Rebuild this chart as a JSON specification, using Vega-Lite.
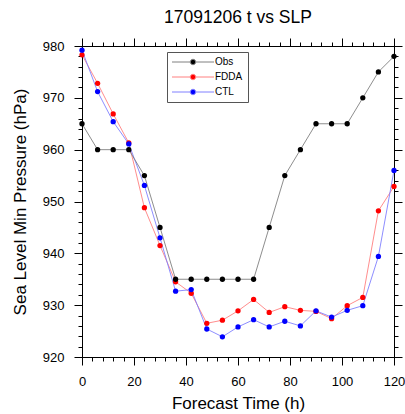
{
  "$schema": "https://vega.github.io/schema/vega-lite/v6.json",
  "width": 312,
  "height": 311,
  "autosize": "none",
  "padding": {"left": 82, "top": 46, "right": 11, "bottom": 57},
  "background": "white",
  "title": {"text": "17091206 t vs SLP", "fontSize": 17.5, "fontWeight": "normal", "font": "Liberation Sans", "color": "black", "anchor": "middle", "frame": "group", "offset": 11},
  "config": {
    "view": {"stroke": null},
    "axis": {"domainColor": "black", "tickColor": "black", "labelColor": "black", "titleColor": "black", "labelFont": "Liberation Sans", "titleFont": "Liberation Sans", "grid": false, "domainWidth": 1, "tickWidth": 1, "titleFontWeight": "normal", "labelFlush": false, "labelOverlap": false},
    "legend": {"labelFont": "Liberation Sans"}
  },
  "data": {"values": [
    {"t": 0, "series": "FDDA", "p": 978.3}, {"t": 6, "series": "FDDA", "p": 972.8}, {"t": 12, "series": "FDDA", "p": 966.9}, {"t": 18, "series": "FDDA", "p": 961.3}, {"t": 24, "series": "FDDA", "p": 948.8}, {"t": 30, "series": "FDDA", "p": 941.5}, {"t": 36, "series": "FDDA", "p": 934.5}, {"t": 42, "series": "FDDA", "p": 932.3}, {"t": 48, "series": "FDDA", "p": 926.5}, {"t": 54, "series": "FDDA", "p": 927.1}, {"t": 60, "series": "FDDA", "p": 928.9}, {"t": 66, "series": "FDDA", "p": 931.1}, {"t": 72, "series": "FDDA", "p": 928.6}, {"t": 78, "series": "FDDA", "p": 929.7}, {"t": 84, "series": "FDDA", "p": 929.0}, {"t": 90, "series": "FDDA", "p": 928.8}, {"t": 96, "series": "FDDA", "p": 927.4}, {"t": 102, "series": "FDDA", "p": 929.9}, {"t": 108, "series": "FDDA", "p": 931.5}, {"t": 114, "series": "FDDA", "p": 948.2}, {"t": 120, "series": "FDDA", "p": 952.9},
    {"t": 0, "series": "CTL", "p": 979.2}, {"t": 6, "series": "CTL", "p": 971.2}, {"t": 12, "series": "CTL", "p": 965.4}, {"t": 18, "series": "CTL", "p": 961.1}, {"t": 24, "series": "CTL", "p": 953.1}, {"t": 30, "series": "CTL", "p": 943.0}, {"t": 36, "series": "CTL", "p": 932.7}, {"t": 42, "series": "CTL", "p": 933.0}, {"t": 48, "series": "CTL", "p": 925.4}, {"t": 54, "series": "CTL", "p": 923.9}, {"t": 60, "series": "CTL", "p": 925.8}, {"t": 66, "series": "CTL", "p": 927.2}, {"t": 72, "series": "CTL", "p": 925.8}, {"t": 78, "series": "CTL", "p": 926.9}, {"t": 84, "series": "CTL", "p": 926.0}, {"t": 90, "series": "CTL", "p": 928.9}, {"t": 96, "series": "CTL", "p": 927.7}, {"t": 102, "series": "CTL", "p": 929.0}, {"t": 108, "series": "CTL", "p": 929.9}, {"t": 114, "series": "CTL", "p": 939.4}, {"t": 120, "series": "CTL", "p": 956.0},
    {"t": 0, "series": "Obs", "p": 965}, {"t": 6, "series": "Obs", "p": 960}, {"t": 12, "series": "Obs", "p": 960}, {"t": 18, "series": "Obs", "p": 960}, {"t": 24, "series": "Obs", "p": 955}, {"t": 30, "series": "Obs", "p": 945}, {"t": 36, "series": "Obs", "p": 935}, {"t": 42, "series": "Obs", "p": 935}, {"t": 48, "series": "Obs", "p": 935}, {"t": 54, "series": "Obs", "p": 935}, {"t": 60, "series": "Obs", "p": 935}, {"t": 66, "series": "Obs", "p": 935}, {"t": 72, "series": "Obs", "p": 945}, {"t": 78, "series": "Obs", "p": 955}, {"t": 84, "series": "Obs", "p": 960}, {"t": 90, "series": "Obs", "p": 965}, {"t": 96, "series": "Obs", "p": 965}, {"t": 102, "series": "Obs", "p": 965}, {"t": 108, "series": "Obs", "p": 970}, {"t": 114, "series": "Obs", "p": 975}, {"t": 120, "series": "Obs", "p": 978}
  ]},
  "layer": [
    {
      "mark": {"type": "line", "strokeWidth": 0.9},
      "encoding": {
        "x": {"field": "t", "type": "quantitative", "scale": {"domain": [0, 120], "nice": false, "zero": false},
          "axis": {"orient": "bottom", "values": [0, 20, 40, 60, 80, 100, 120], "tickSize": 8, "labelPadding": 10, "labelFontSize": 13, "title": "Forecast Time (h)", "titleFontSize": 17, "titlePadding": 7}},
        "y": {"field": "p", "type": "quantitative", "scale": {"domain": [920, 980], "nice": false, "zero": false},
          "axis": {"orient": "left", "values": [920, 930, 940, 950, 960, 970, 980], "tickSize": 8, "labelPadding": 10, "labelFontSize": 13, "title": "Sea Level Min Pressure (hPa)", "titleFontSize": 17, "titlePadding": 13}},
        "stroke": {"field": "series", "type": "nominal", "scale": {"domain": ["Obs", "FDDA", "CTL"], "range": ["#808080", "#ff8080", "#8080ff"]},
          "legend": {"orient": "none", "legendX": 85, "legendY": 6, "title": null, "padding": 5, "strokeColor": "#555555", "symbolType": "M-7,0L-0.9,0M0.9,0L7,0M-0.9,0A0.9,0.9,0,1,0,0.9,0A0.9,0.9,0,1,0,-0.9,0", "symbolSize": 36, "symbolStrokeWidth": 1, "symbolOffset": 16, "labelOffset": 17, "labelFontSize": 10, "labelColor": "black", "rowPadding": 5}}
      }
    },
    {
      "mark": {"type": "point", "filled": true, "size": 28, "opacity": 1, "strokeWidth": 0},
      "encoding": {
        "x": {"field": "t", "type": "quantitative", "axis": {"orient": "top", "values": [0, 20, 40, 60, 80, 100, 120], "tickSize": 8, "labels": false, "title": null}},
        "y": {"field": "p", "type": "quantitative", "axis": {"orient": "right", "values": [920, 930, 940, 950, 960, 970, 980], "tickSize": 8, "labels": false, "title": null}},
        "fill": {"field": "series", "type": "nominal", "scale": {"domain": ["Obs", "FDDA", "CTL"], "range": ["#000000", "#ff0000", "#0000ff"]}},
        "stroke": {"field": "series", "type": "nominal"}
      }
    },
    {
      "mark": {"type": "point", "opacity": 0},
      "encoding": {
        "x": {"field": "t", "type": "quantitative", "axis": {"orient": "bottom", "values": [0, 4, 8, 12, 16, 20, 24, 28, 32, 36, 40, 44, 48, 52, 56, 60, 64, 68, 72, 76, 80, 84, 88, 92, 96, 100, 104, 108, 112, 116, 120], "tickSize": 4, "labels": false, "domain": false, "title": null}},
        "y": {"field": "p", "type": "quantitative", "axis": {"orient": "left", "values": [920, 922, 924, 926, 928, 930, 932, 934, 936, 938, 940, 942, 944, 946, 948, 950, 952, 954, 956, 958, 960, 962, 964, 966, 968, 970, 972, 974, 976, 978, 980], "tickSize": 4, "labels": false, "domain": false, "title": null}}
      }
    },
    {
      "mark": {"type": "point", "opacity": 0},
      "encoding": {
        "x": {"field": "t", "type": "quantitative", "axis": {"orient": "top", "values": [0, 4, 8, 12, 16, 20, 24, 28, 32, 36, 40, 44, 48, 52, 56, 60, 64, 68, 72, 76, 80, 84, 88, 92, 96, 100, 104, 108, 112, 116, 120], "tickSize": 4, "labels": false, "domain": false, "title": null}},
        "y": {"field": "p", "type": "quantitative", "axis": {"orient": "right", "values": [920, 922, 924, 926, 928, 930, 932, 934, 936, 938, 940, 942, 944, 946, 948, 950, 952, 954, 956, 958, 960, 962, 964, 966, 968, 970, 972, 974, 976, 978, 980], "tickSize": 4, "labels": false, "domain": false, "title": null}}
      }
    }
  ],
  "resolve": {"axis": {"x": "independent", "y": "independent"}}
}
